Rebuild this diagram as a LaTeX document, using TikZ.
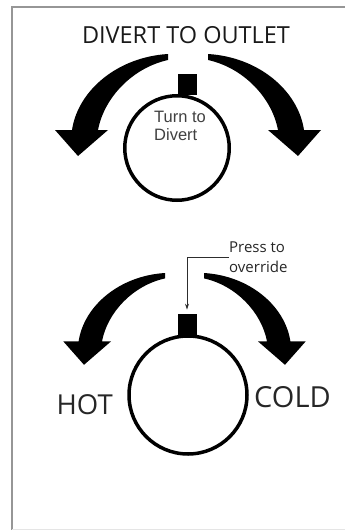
\documentclass[tikz,border=0pt]{standalone}
\usepackage{fontspec}
\setmainfont{Open Sans}
\newfontfamily\arialfont{Liberation Sans}
\usetikzlibrary{arrows.meta,positioning}
\definecolor{panel}{RGB}{150,150,150}
\definecolor{leader}{RGB}{45,45,45}

% thick bent arrow, drawn from its tail at the origin
\newcommand{\turnarrow}{%
  \fill (0,0) .. controls (-50,3) and (-90,36) .. (-96,76)
    -- (-113,76) -- (-90,102) -- (-60,76) -- (-70,76)
    .. controls (-64,44) and (-36,14) .. (0,6) -- cycle;
}

\begin{document}
\begin{tikzpicture}[x=1pt, y=-1pt,
  every node/.style={inner sep=0pt},
  knob/.style={circle, draw, line width=3.5pt},
  stub/.style={fill=black, minimum width=19pt, minimum height=21pt},
  big/.style={font=\fontsize{23.5}{28}\selectfont, text=black!90},
  side/.style={font=\fontsize{27.5}{32}\selectfont, text=black!85},
  small/.style={font=\arialfont\fontsize{16.5}{18}\selectfont, text=black!75, align=left},
  note/.style={font=\fontsize{15}{20}\selectfont, text=black!85, align=left},
  leaderline/.style={draw=leader, line width=0.9pt},
]

\useasboundingbox (0,0) rectangle (345,530);
\draw[panel, line width=2.5pt] (345,7) -- (12,7) -- (12,530);
\draw[black!10, line width=1pt] (12,529) -- (345,529);

% divert knob
\node[big, anchor=base] (title) at (186,43) {DIVERT TO OUTLET};
\node[knob, minimum size=104.5pt] (knob1) at (177,148) {};
\node[stub, anchor=south] (stub1) at (187,95) {};
\node[small, anchor=north west] (turn) at (154,111) {Turn to\\Divert};
\begin{scope}[shift={(168,54)}]
  \turnarrow
\end{scope}
\begin{scope}[shift={(208,54)}, xscale=-1]
  \turnarrow
\end{scope}

% temperature knob
\node[knob, minimum size=118pt] (knob2) at (188,395) {};
\node[stub, anchor=south] (stub2) at (187,335) {};
\node[note, anchor=west] (press) at (229,257) {Press to\\override};
\node[side, anchor=base east] (hot) at (113,414) {HOT};
\node[side, anchor=base west, font=\fontsize{29}{32}\selectfont] (cold) at (254,407) {COLD};
\begin{scope}[shift={(165,273)}, scale=0.9]
  \turnarrow
\end{scope}
\begin{scope}[shift={(204,273)}, xscale=-0.9, yscale=0.9]
  \turnarrow
\end{scope}

\draw[leaderline, -{Stealth[length=6pt, width=4pt]}, shorten >=4pt]
  (press.west) -| (stub2.north);

\end{tikzpicture}
\end{document}
